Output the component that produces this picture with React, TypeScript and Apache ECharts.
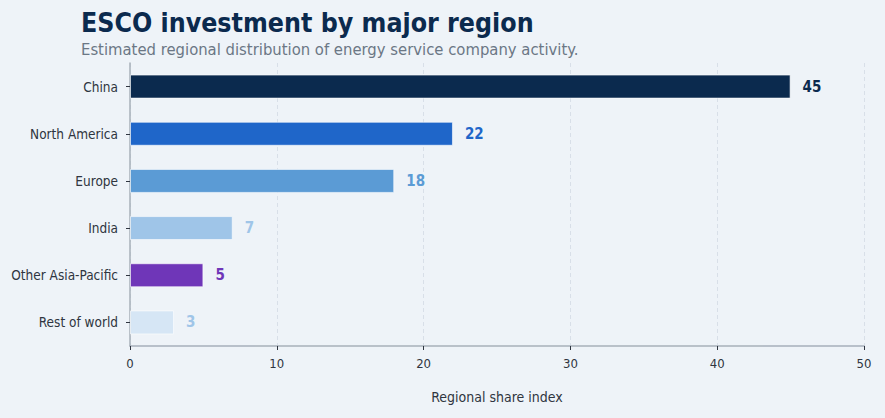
import { useEffect, useRef } from 'react';
import * as echarts from 'echarts';

const regions = ['China', 'North America', 'Europe', 'India', 'Other Asia-Pacific', 'Rest of world'];
const shares = [45, 22, 18, 7, 5, 3];
const barColors = ['#0b2a4e', '#1f66c9', '#5b9bd5', '#9fc5e8', '#6f36b8', '#d6e6f5'];
const labelColors = ['#0b2a4e', '#1f66c9', '#5b9bd5', '#9fc5e8', '#6f36b8', '#9fc5e8'];

const fontFamily = "'DejaVu Sans Condensed', 'DejaVu Sans', sans-serif";

export default function App() {
    const chartRef = useRef<HTMLDivElement>(null);

    useEffect(() => {
        if (!chartRef.current) return;
        document.body.style.margin = '0';
        const chart = echarts.init(chartRef.current, null, { renderer: 'svg' });

        const option: echarts.EChartsOption = {
            backgroundColor: '#eef3f8',
            animation: false,
            title: [
                {
                    text: 'ESCO investment by major region',
                    left: 76,
                    top: 4,
                    padding: [5, 5, 0, 5],
                    textStyle: { fontFamily, fontSize: 26.5, lineHeight: 26, fontWeight: 'bold', color: '#0b2a4e' }
                },
                {
                    text: 'Estimated regional distribution of energy service company activity.',
                    left: 76,
                    top: 38,
                    padding: [2, 5, 2, 5],
                    textStyle: { fontFamily, fontSize: 16.5, lineHeight: 18, fontWeight: 'normal', color: '#6b7785' }
                }
            ],
            grid: { left: 130, right: 21, top: 63, bottom: 72 },
            xAxis: {
                type: 'value',
                min: 0,
                max: 50,
                interval: 10,
                name: 'Regional share index',
                nameLocation: 'middle',
                nameGap: 44,
                nameTextStyle: { fontFamily, fontSize: 14, color: '#2f3540' },
                axisLine: { show: true, lineStyle: { color: '#a7b0ba', width: 1.5 } },
                axisTick: { show: true, length: 4, lineStyle: { color: '#2f3540' } },
                axisLabel: { fontFamily, fontSize: 13, color: '#2f3540', margin: 11 },
                splitLine: { show: true, lineStyle: { color: '#d8dfe8', type: [4, 3] } }
            },
            yAxis: {
                type: 'category',
                data: regions,
                inverse: true,
                axisLine: { show: true, lineStyle: { color: '#a7b0ba', width: 1.5 } },
                axisTick: { show: true, alignWithLabel: true, length: 4, lineStyle: { color: '#2f3540' } },
                axisLabel: { fontFamily, fontSize: 13.5, color: '#2f3540', margin: 12 },
                splitLine: { show: false }
            },
            series: [
                {
                    type: 'bar',
                    data: shares.map((v, i) => ({
                        value: v,
                        itemStyle: { color: barColors[i] },
                        label: { color: labelColors[i] }
                    })),
                    barWidth: 24,
                    itemStyle: { borderColor: 'rgba(255,255,255,0.6)', borderWidth: 1 },
                    label: {
                        show: true,
                        position: 'right',
                        distance: 12,
                        fontFamily,
                        fontSize: 15,
                        fontWeight: 'bold'
                    }
                }
            ]
        };

        chart.setOption(option);
        return () => chart.dispose();
    }, []);

    return <div ref={chartRef} style={{ width: 885, height: 418 }} />;
}
